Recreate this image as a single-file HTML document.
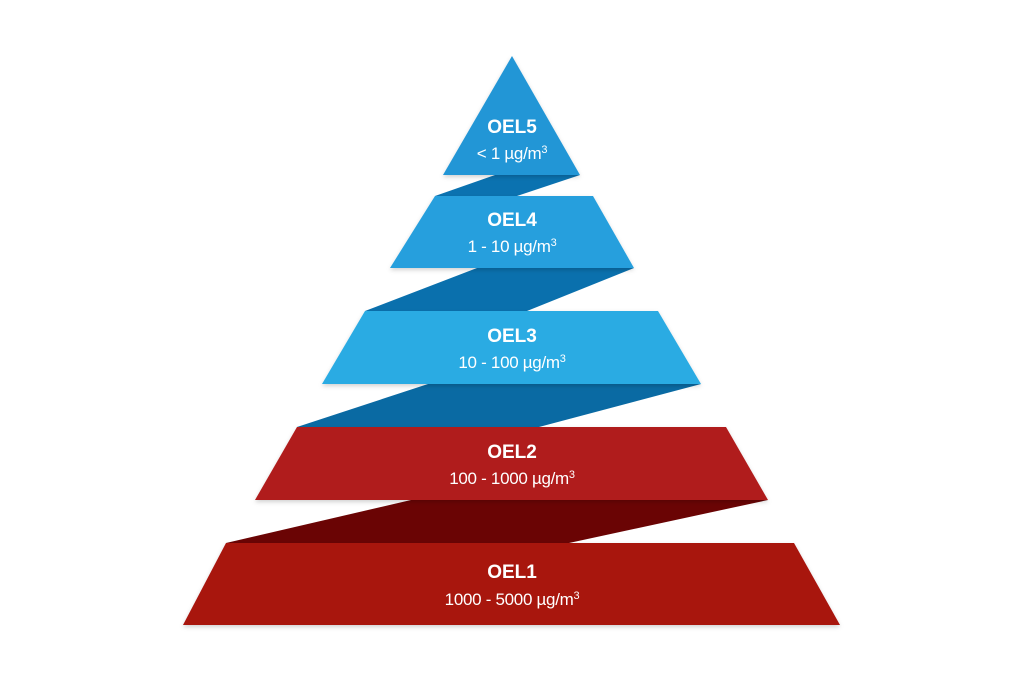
<!DOCTYPE html>
<html><head><meta charset="utf-8"><style>
html,body{margin:0;padding:0;background:#fff;}
svg{display:block;}
text{font-family:"Liberation Sans",sans-serif;fill:#fff;text-anchor:middle;}
.t{font-weight:bold;font-size:19px;}
.s{font-size:17px;letter-spacing:-0.3px;}
</style></head><body>
<svg width="1024" height="682" viewBox="0 0 1024 682" xmlns="http://www.w3.org/2000/svg">
<defs><filter id="sh" x="-10%" y="-10%" width="120%" height="130%"><feDropShadow dx="0" dy="2" stdDeviation="2" flood-color="#000" flood-opacity="0.18"/></filter></defs>
<polygon points="495,175 580,175 517,196 435,196" fill="#0b72b0"/>
<polygon points="477,268 634,268 527,311 365,311" fill="#0a70ad"/>
<polygon points="428,384 701,384 539,427 297,427" fill="#0a6aa3"/>
<polygon points="411,500 768,500 569,543 226,543" fill="#6a0404"/>
<polygon points="512,56 580,175 443,175" fill="#2196d6" filter="url(#sh)"/>
<polygon points="435,196 593,196 634,268 390,268" fill="#259fdd" filter="url(#sh)"/>
<polygon points="365,311 658,311 701,384 322,384" fill="#2aabe3" filter="url(#sh)"/>
<polygon points="297,427 726,427 768,500 255,500" fill="#b01c1c" filter="url(#sh)"/>
<polygon points="226,543 794,543 840,625 183,625" fill="#a8120f" filter="url(#sh)"/>
<text class="t" x="512" y="133">OEL5</text>
<text class="s" x="512" y="159">&lt; 1 µg/m<tspan font-size="11" dy="-6">3</tspan></text>
<text class="t" x="512" y="226">OEL4</text>
<text class="s" x="512" y="252">1 - 10 µg/m<tspan font-size="11" dy="-6">3</tspan></text>
<text class="t" x="512" y="342">OEL3</text>
<text class="s" x="512" y="368">10 - 100 µg/m<tspan font-size="11" dy="-6">3</tspan></text>
<text class="t" x="512" y="458">OEL2</text>
<text class="s" x="512" y="484">100 - 1000 µg/m<tspan font-size="11" dy="-6">3</tspan></text>
<text class="t" x="512" y="578">OEL1</text>
<text class="s" x="512" y="605">1000 - 5000 µg/m<tspan font-size="11" dy="-6">3</tspan></text>
</svg>
</body></html>
